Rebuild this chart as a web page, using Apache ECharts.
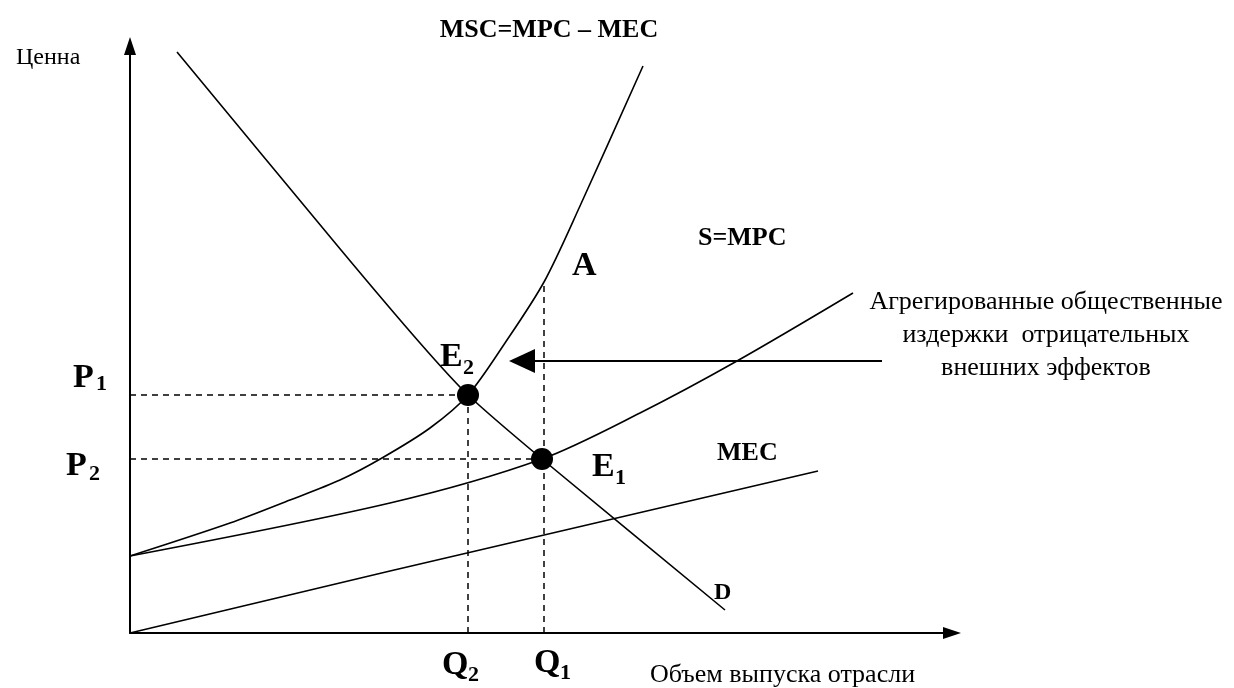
<!DOCTYPE html>
<html>
<head>
<meta charset="utf-8">
<script src="https://cdn.jsdelivr.net/npm/echarts@6/dist/echarts.min.js"></script>
<style>
  html, body { margin: 0; padding: 0; background: #fff; }
  #chart { width: 1234px; height: 688px; }
</style>
</head>
<body>
<div id="chart"></div>
<script>
// кривые (объем выпуска / цена, условные единицы)
var qD = [47, 211, 290, 338, 412, 595];
var pD = [581, 383, 290, 238, 174, 23];

var qMSC = [0, 100, 160, 210, 252, 300, 338, 375, 414, 450, 513];
var pMSC = [77, 110, 133, 153, 175, 205, 238, 290, 351, 427, 567];

var qS = [0, 260, 412, 510, 607, 723];
var pS = [77, 130, 174, 220, 272, 340];

var qMEC = [0, 260, 688];
var pMEC = [0, 62, 162];

// равновесия E1, E2 и точка A
var qE = [412, 338];
var pE = [174, 238];
var qA = 414, pA = 351;

// стрелка внешних издержек
var arrowFrom = [752, 272];
var arrowTo = [392, 272];

var serif = '"Liberation Serif", "Times New Roman", serif';

function zip(xs, ys) {
  var out = [];
  for (var i = 0; i < xs.length; i++) out.push([xs[i], ys[i]]);
  return out;
}

function curve(name, xs, ys, smooth) {
  return {
    name: name,
    type: 'line',
    data: zip(xs, ys),
    showSymbol: false,
    symbol: 'none',
    smooth: smooth,
    silent: true,
    lineStyle: { color: '#000', width: 1.6 }
  };
}

function dashed(pts) {
  return {
    type: 'line',
    data: pts,
    symbol: 'none',
    silent: true,
    lineStyle: { color: '#000', width: 1.5, type: [6, 5] }
  };
}

function txt(x, y, s, size, bold, align) {
  return {
    type: 'text',
    x: x,
    y: y,
    style: {
      text: s,
      fill: '#000',
      font: (bold ? 'bold ' : '') + size + 'px ' + serif,
      textAlign: align || 'left',
      textVerticalAlign: 'middle'
    }
  };
}

var chart = echarts.init(document.getElementById('chart'));

var option = {
  animation: false,
  backgroundColor: '#fff',
  grid: { left: 130, right: 282, top: 46, bottom: 55 },
  xAxis: {
    type: 'value', min: 0, max: 822,
    axisLine: { lineStyle: { color: '#000', width: 2 }, symbol: ['none', 'triangle'], symbolSize: [12, 18] },
    axisTick: { show: false }, axisLabel: { show: false }, splitLine: { show: false }
  },
  yAxis: {
    type: 'value', min: 0, max: 587,
    axisLine: { lineStyle: { color: '#000', width: 2 }, symbol: ['none', 'triangle'], symbolSize: [12, 18] },
    axisTick: { show: false }, axisLabel: { show: false }, splitLine: { show: false }
  },
  series: [
    curve('D', qD, pD, 0.2),
    curve('MSC', qMSC, pMSC, 0.3),
    curve('S=MPC', qS, pS, 0.3),
    curve('MEC', qMEC, pMEC, 0),
    dashed([[0, pE[1]], [qE[1], pE[1]]]),
    dashed([[qE[1], 0], [qE[1], pE[1]]]),
    dashed([[0, pE[0]], [qE[0], pE[0]]]),
    dashed([[qA, 0], [qA, pA]]),
    {
      type: 'line',
      data: [],
      silent: true,
      markLine: {
        silent: true,
        symbol: ['none', 'triangle'],
        symbolSize: [24, 26],
        label: { show: false },
        lineStyle: { color: '#000', width: 2, type: 'solid' },
        data: [[{ coord: arrowFrom }, { coord: arrowTo }]]
      }
    },
    {
      type: 'scatter',
      data: zip(qE, pE),
      symbolSize: 22,
      silent: true,
      z: 10,
      itemStyle: { color: '#000', opacity: 1 }
    }
  ],
  graphic: [
    txt(16, 58, 'Ценна', 24, false),
    txt(549, 30, 'MSC=MPC – MEC', 26, true, 'center'),
    txt(698, 238, 'S=MPC', 26, true),
    txt(717, 453, 'MEC', 26, true),
    txt(714, 593, 'D', 24, true),
    txt(572, 266, 'A', 34, true),
    txt(440, 357, 'E', 34, true),
    txt(463, 368, '2', 22, true),
    txt(592, 467, 'E', 34, true),
    txt(615, 478, '1', 22, true),
    txt(73, 378, 'P', 34, true),
    txt(96, 384, '1', 22, true),
    txt(66, 466, 'P', 34, true),
    txt(89, 474, '2', 22, true),
    txt(442, 665, 'Q', 34, true),
    txt(468, 675, '2', 22, true),
    txt(534, 663, 'Q', 34, true),
    txt(560, 673, '1', 22, true),
    txt(650, 675, 'Объем выпуска отрасли', 26, false),
    txt(1046, 302, 'Агрегированные общественные', 26, false, 'center'),
    txt(1046, 335, 'издержки  отрицательных', 26, false, 'center'),
    txt(1046, 368, 'внешних эффектов', 26, false, 'center')
  ]
};

chart.setOption(option);
</script>
</body>
</html>
